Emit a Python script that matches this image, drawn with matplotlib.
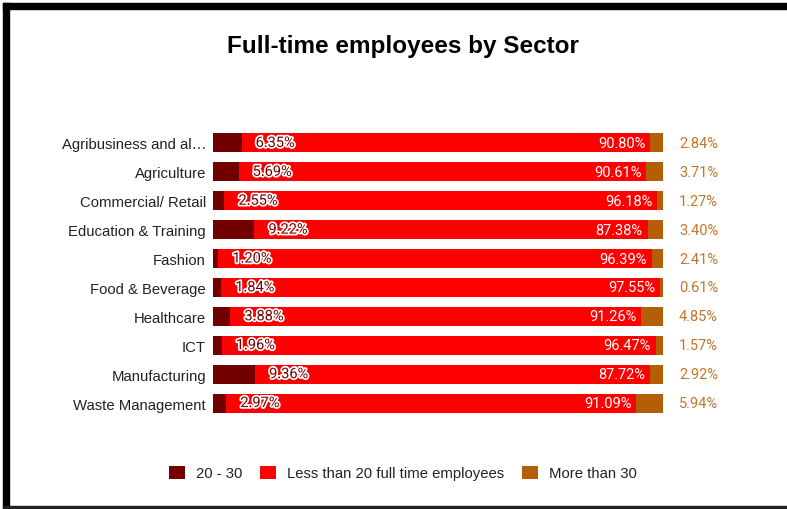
import matplotlib.pyplot as plt
import matplotlib.patheffects as pe
from matplotlib.patches import Patch, Rectangle

# Share of businesses by number of full-time employees, per sector
sectors = ['Agribusiness and al…', 'Agriculture', 'Commercial/ Retail',
           'Education & Training', 'Fashion', 'Food & Beverage',
           'Healthcare', 'ICT', 'Manufacturing', 'Waste Management']
mid_size = [6.35, 5.69, 2.55, 9.22, 1.20, 1.84, 3.88, 1.96, 9.36, 2.97]
small = [90.80, 90.61, 96.18, 87.38, 96.39, 97.55, 91.26, 96.47, 87.72, 91.09]
large = [2.84, 3.71, 1.27, 3.40, 2.41, 0.61, 4.85, 1.57, 2.92, 5.94]

c_mid = '#730000'
c_small = '#ff0000'
c_large = '#b45f06'

fig = plt.figure(figsize=(7.87, 5.10), dpi=100)
W, H = 787, 510
ax = fig.add_axes([213 / W, 1 - 418.5 / H, 450 / W, 289 / H])

y = list(range(len(sectors)))
left_small = mid_size
left_large = [a + b for a, b in zip(mid_size, small)]
ax.barh(y, mid_size, height=0.66, color=c_mid)
ax.barh(y, small, left=left_small, height=0.66, color=c_small)
ax.barh(y, large, left=left_large, height=0.66, color=c_large)

ax.set_xlim(0, 100)
ax.set_ylim(len(sectors) - 0.5, -0.5)
ax.set_yticks(y)
ax.set_yticklabels(sectors, fontsize=10.7, color='#222222', family='Liberation Sans')
ax.tick_params(axis='y', length=0, pad=5)
ax.set_xticks([])
for s in ax.spines.values():
    s.set_visible(False)

halo = [pe.withStroke(linewidth=2.5, foreground='white')]
for i in y:
    # label for the 20-30 segment, sits just inside the red bar
    ax.annotate(f'{mid_size[i]:.2f}%', xy=(mid_size[i], i), xytext=(14, 0),
                textcoords='offset pixels', ha='left', va='center',
                fontsize=10.5, color=c_mid, family='Roboto', path_effects=halo)
    ax.annotate(f'{small[i]:.2f}%', xy=(left_large[i], i), xytext=(-5, 0),
                textcoords='offset pixels', ha='right', va='center',
                fontsize=10.5, color='white', family='Roboto')
    ax.annotate(f'{large[i]:.2f}%', xy=(left_large[i] + large[i], i),
                xytext=(16, 0), textcoords='offset pixels', ha='left',
                va='center', fontsize=10.5, color='#c0772c', family='Roboto')

fig.text(403 / W, 1 - 46 / H, 'Full-time employees by Sector', ha='center',
         va='center', fontsize=17.5, fontweight='bold', family='Liberation Sans')

handles = [Patch(facecolor=c_mid, label='20 - 30'),
           Patch(facecolor=c_small, label='Less than 20 full time employees'),
           Patch(facecolor=c_large, label='More than 30')]
leg = fig.legend(handles=handles, loc='center', bbox_to_anchor=(403 / W, 1 - 474 / H),
                 ncol=3, frameon=False, handlelength=1.05, handleheight=1.05,
                 handletextpad=0.75, columnspacing=1.2,
                 prop={'family': 'Liberation Sans', 'size': 10.7})
for t in leg.get_texts():
    t.set_color('#222222')

# frame around the chart area
fig.patches.append(Rectangle((3 / W, 0), 5.5 / W, 1 - 4 / H, transform=fig.transFigure,
                             color='black', zorder=10))
fig.patches.append(Rectangle((3 / W, 1 - 10 / H), 1, 6 / H, transform=fig.transFigure,
                             color='black', zorder=10))
fig.patches.append(Rectangle((3 / W, 1 - 509 / H), 1, 2 / H, transform=fig.transFigure,
                             color='#222222', zorder=10))

fig.savefig('out.png', dpi=100)
